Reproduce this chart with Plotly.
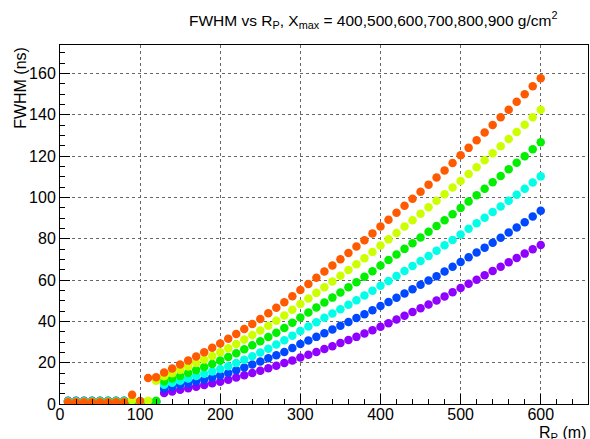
import plotly.graph_objects as go

R = list(range(10, 610, 10))

# FWHM (ns) per Xmax series, R = 10..600 m step 10
low_purple = [1.6, 1.6, 1.6, 1.6, 1.6, 1.6, 1.6, 1.6, 1.2, 1.0, 1.0, 1.0]
low_blue   = [1.4, 1.4, 1.4, 1.4, 1.5, 1.5, 1.5, 1.5, 1.2, 1.1, 1.1, 1.1]
low_cyan   = [1.3, 1.3, 1.3, 1.3, 1.4, 1.4, 1.4, 1.4, 1.2, 1.2, 1.2, 1.2]
low_green  = [1.1, 1.1, 1.1, 1.2, 1.2, 1.2, 1.2, 1.2, 1.2, 1.2, 1.2, 1.6]
low_yellow = [1.0, 1.0, 1.0, 1.0, 1.0, 1.0, 1.0, 1.0, 1.8, 1.3, 1.6, 11.3]
low_orange = [0.9, 0.9, 0.9, 0.9, 0.9, 0.9, 0.9, 0.9, 4.5, 1.5, 12.6, 12.9]

hi_purple = [5.3, 6.1, 6.9, 7.6, 8.4, 9.2, 10.0, 10.8, 11.8, 12.8, 13.9, 15.0,
             16.1, 17.3, 18.5, 19.8, 21.1, 22.5, 23.8, 25.2, 26.6, 28.0, 29.5, 31.0,
             32.5, 34.1, 35.7, 37.4, 39.1, 40.9, 42.7, 44.5, 46.3, 48.2, 50.1, 52.1,
             54.1, 56.2, 58.2, 60.2, 62.3, 64.4, 66.5, 68.6, 70.7, 72.8, 74.9, 77.0]
hi_blue = [7.4, 8.3, 9.2, 10.1, 11.0, 11.9, 12.8, 13.8, 15.0, 16.3, 17.7, 19.1,
           20.6, 22.1, 23.6, 25.2, 27.1, 29.0, 30.7, 32.5, 34.3, 36.1, 37.9, 39.7,
           41.6, 43.5, 45.4, 47.4, 49.4, 51.4, 53.5, 55.6, 57.7, 59.8, 61.9, 64.1,
           66.4, 68.7, 71.0, 73.3, 75.7, 78.1, 80.5, 83.0, 85.5, 88.0, 90.8, 93.6]
hi_cyan = [9.3, 10.3, 11.3, 12.4, 13.5, 14.6, 15.7, 16.9, 18.3, 19.8, 21.4, 23.1,
           24.9, 26.8, 28.8, 30.9, 33.1, 35.4, 37.5, 39.6, 41.7, 43.8, 45.9, 48.0,
           50.2, 52.5, 54.8, 57.2, 59.6, 62.0, 64.4, 66.8, 69.2, 71.7, 74.2, 76.8,
           79.4, 82.1, 84.8, 87.5, 90.2, 92.9, 95.6, 98.4, 101.3, 104.2, 107.2, 110.2]
hi_green = [11.0, 12.3, 13.6, 15.0, 16.4, 17.9, 19.4, 21.0, 22.8, 24.6, 26.5, 28.4,
            30.4, 32.4, 34.5, 36.8, 39.3, 41.9, 44.3, 46.7, 49.1, 51.5, 54.0, 56.5,
            59.0, 61.6, 64.3, 67.0, 69.7, 72.4, 75.1, 77.8, 80.6, 83.4, 86.2, 89.0,
            91.9, 94.9, 98.0, 101.1, 104.2, 107.3, 110.4, 113.6, 116.8, 120.0, 123.3, 126.7]
hi_yellow = [13.4, 14.9, 16.5, 18.1, 19.8, 21.5, 23.2, 25.0, 27.0, 29.1, 31.2, 33.4,
             35.6, 37.9, 40.3, 42.8, 45.6, 48.4, 51.1, 53.8, 56.5, 59.3, 62.1, 64.9,
             67.7, 70.6, 73.6, 76.7, 79.7, 82.8, 85.9, 89.0, 92.1, 95.2, 98.4, 101.6,
             104.8, 108.0, 111.3, 114.6, 118.0, 121.4, 124.8, 128.3, 131.7, 135.2, 138.8, 142.5]
hi_orange = [15.3, 17.2, 19.1, 21.0, 23.0, 25.1, 27.2, 29.3, 31.6, 33.9, 36.3, 38.7,
             41.2, 43.9, 46.6, 49.3, 52.2, 55.2, 58.1, 61.1, 64.1, 67.1, 70.1, 73.1,
             76.2, 79.3, 82.6, 85.9, 89.2, 92.6, 96.0, 99.4, 102.8, 106.2, 109.6, 113.1,
             116.7, 120.4, 124.0, 127.7, 131.4, 135.1, 138.8, 142.5, 146.3, 150.0, 153.8, 157.7]

series = [
    ("400", low_purple + hi_purple, "#8F00FF"),
    ("500", low_blue + hi_blue, "#0048FF"),
    ("600", low_cyan + hi_cyan, "#00FFE6"),
    ("700", low_green + hi_green, "#00F000"),
    ("800", low_yellow + hi_yellow, "#CCFF00"),
    ("900", low_orange + hi_orange, "#FF5A00"),
]

FONT = "Liberation Sans, Arial, Helvetica, sans-serif"

fig = go.Figure()
for name, vals, col in series:
    fig.add_trace(go.Scatter(x=R, y=vals, mode="markers", name=name,
                             marker=dict(size=8.5, color=col, line=dict(width=0)),
                             showlegend=False))

axis_common = dict(
    showline=True, linecolor="black", linewidth=1, mirror=True,
    ticks="inside", tickcolor="black", tickwidth=1,
    showgrid=True, gridcolor="#666666", griddash="dot", gridwidth=1,
    zeroline=False, tickfont=dict(family=FONT, size=16, color="black"),
)

fig.update_layout(
    width=590, height=439,
    margin=dict(l=60, r=2, t=45, b=35),
    paper_bgcolor="white", plot_bgcolor="white",
    xaxis=dict(range=[0, 659], dtick=100, tick0=0, ticklen=10, ticklabelstandoff=-4,
               minor=dict(dtick=20, ticklen=5, ticks="inside", tickcolor="black", showgrid=False),
               **axis_common),
    yaxis=dict(range=[0, 173.8], dtick=20, tick0=0, ticklen=10,
               minor=dict(dtick=5, ticklen=5, ticks="inside", tickcolor="black", showgrid=False),
               **axis_common),
    annotations=[
        dict(text="FWHM vs R<sub>P</sub>, X<sub>max</sub> = 400,500,600,700,800,900 g/cm<sup>2</sup>",
             xref="paper", yref="paper", x=0.593, y=1.07, xanchor="center", yanchor="middle",
             showarrow=False, font=dict(family=FONT, size=15.5, color="black")),
        dict(text="R<sub>P</sub> (m)", xref="paper", yref="paper", x=1.0, y=-0.05,
             xanchor="right", yanchor="top", showarrow=False,
             font=dict(family=FONT, size=16, color="black")),
        dict(text="FWHM (ns)", xref="paper", yref="paper", x=-0.076, y=1.0,
             xanchor="center", yanchor="top", textangle=-90, showarrow=False,
             font=dict(family=FONT, size=16, color="black")),
    ],
)

fig.write_html("out.html")
